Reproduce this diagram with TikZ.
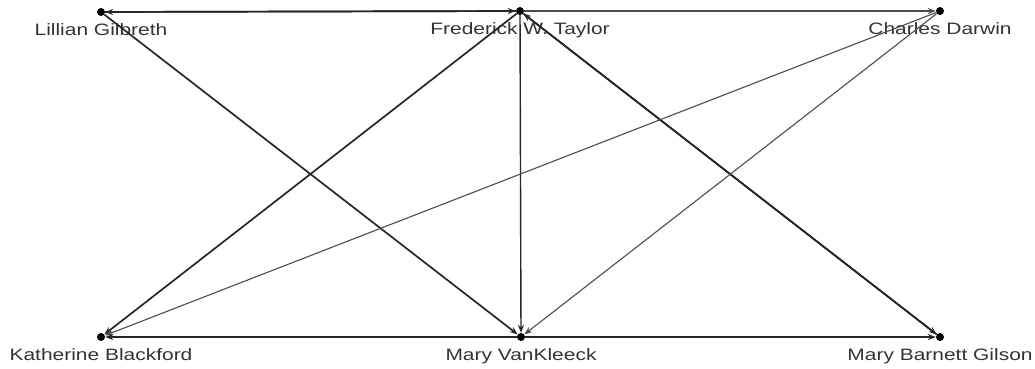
\documentclass[tikz,border=0pt]{standalone}
\usepackage{fontspec}
\setmainfont{Liberation Sans}[FakeStretch=1.27]
\usetikzlibrary{arrows.meta}
\begin{document}
\begin{tikzpicture}[x=1pt,y=-1pt,
    pers/.style={circle,fill=black,inner sep=0pt,minimum size=8pt},
    lab/.style={inner sep=0pt,text=black!80,font=\fontsize{16.5}{18}\selectfont},
    tie/.style={-{Stealth[length=8pt,width=6pt]},line width=1.7pt,draw=black!85},
    thin tie/.style={tie,line width=1.1pt,draw=black!70}]
  \useasboundingbox (0,0) rectangle (1035,369);

  % top row
  \node[pers,label={[lab,label distance=7.5pt]below:Lillian Gilbreth}] (gilbreth) at (101,12) {};
  \node[pers,label={[lab,label distance=7.5pt]below:Frederick W. Taylor}] (taylor) at (520,11) {};
  \node[pers,label={[lab,label distance=7.5pt]below:Charles Darwin}] (darwin) at (940,11) {};

  % bottom row
  \node[pers,label={[lab,label distance=7.5pt]below:Katherine Blackford}] (blackford) at (101,337) {};
  \node[pers,label={[lab,label distance=7.5pt]below:Mary VanKleeck}] (vankleeck) at (521,337) {};
  \node[pers,label={[lab,label distance=7.5pt]below:Mary Barnett Gilson}] (gilson) at (940,337) {};

  \draw[tie] (taylor) -- (gilbreth);
  \draw[tie] (gilbreth) -- (taylor);
  \draw[thin tie] (taylor) -- (darwin);

  \draw[tie] (gilbreth) -- (vankleeck);
  \draw[tie] (taylor) -- (blackford);
  \draw[tie,line width=1.4pt] (taylor) -- (vankleeck);
  \draw[tie] (taylor) -- (gilson);
  \draw[tie] (gilson) -- (taylor);

  \draw[thin tie] (darwin) -- (blackford);
  \draw[thin tie] (darwin) -- (vankleeck);

  \draw[tie,line width=1.4pt] (vankleeck) -- (blackford);
  \draw[tie,line width=1.4pt] (vankleeck) -- (gilson);

\end{tikzpicture}
\end{document}
